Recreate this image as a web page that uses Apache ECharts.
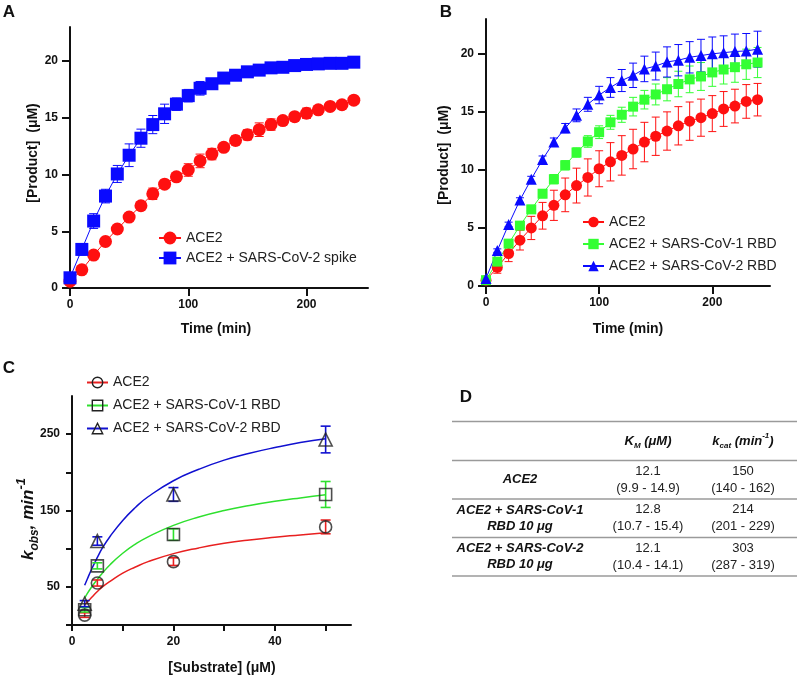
<!DOCTYPE html>
<html><head><meta charset="utf-8">
<script src="https://cdn.jsdelivr.net/npm/echarts@6/dist/echarts.min.js"></script>
<style>html,body{margin:0;padding:0;background:#fff}#c{width:800px;height:680px}</style>
</head><body><div id="c"></div><script>
const FONT = '"Liberation Sans", Arial, Helvetica, sans-serif';

// ---------- Panel A ----------
const timeMin = [0,10,20,30,40,50,60,70,80,90,100,110,120,130,140,150,160,170,180,190,200,210,220,230,240];
const aAce2 = [0.6,1.6,2.9,4.1,5.2,6.25,7.25,8.3,9.15,9.8,10.4,11.2,11.8,12.4,13.0,13.5,13.95,14.4,14.75,15.1,15.4,15.7,16.0,16.15,16.55];
const aAce2Err = [0.1,0.1,0.2,0.2,0.2,0.25,0.3,0.5,0.3,0.3,0.55,0.6,0.5,0.35,0.4,0.45,0.6,0.5,0.3,0.35,0.45,0.3,0.3,0.2,0.2];
const aSpike = [0.9,3.4,5.9,8.1,10.05,11.7,13.2,14.4,15.35,16.2,16.95,17.6,18.0,18.5,18.75,19.05,19.2,19.4,19.45,19.6,19.7,19.75,19.8,19.8,19.9];
const aSpikeErr = [0.1,0.5,0.65,0.6,0.75,1.0,0.8,0.8,0.85,0.55,0.55,0.6,0.35,0.3,0.3,0.3,0.3,0.25,0.25,0.25,0.2,0.2,0.2,0.2,0.2];

// ---------- Panel B ----------
const bAce2 = [0.5,1.6,2.8,3.95,5.0,6.05,6.95,7.85,8.65,9.35,10.1,10.7,11.25,11.8,12.4,12.9,13.35,13.8,14.2,14.5,14.85,15.25,15.5,15.9,16.05];
const bAce2Err = [0.2,0.5,0.7,0.85,1.0,1.15,1.3,1.45,1.5,1.6,1.55,1.65,1.7,1.7,1.7,1.65,1.65,1.65,1.65,1.6,1.55,1.5,1.45,1.45,1.4];
const bCov1 = [0.5,2.1,3.65,5.2,6.6,7.95,9.2,10.4,11.5,12.45,13.25,14.1,14.75,15.45,16.05,16.5,16.95,17.4,17.8,18.05,18.4,18.65,18.85,19.1,19.25];
const bCov1Err = [0.1,0.2,0.3,0.3,0.35,0.35,0.4,0.4,0.4,0.5,0.55,0.6,0.65,0.8,0.8,0.9,1.0,1.1,1.15,1.2,1.2,1.25,1.3,1.3,1.3];
const bCov2 = [0.65,3.05,5.3,7.4,9.2,10.9,12.4,13.6,14.7,15.65,16.45,17.1,17.7,18.15,18.7,18.95,19.3,19.45,19.7,19.85,20.0,20.1,20.2,20.25,20.4];
const bCov2Err = [0.1,0.15,0.2,0.2,0.25,0.3,0.35,0.4,0.55,0.6,0.75,0.85,0.95,1.05,1.1,1.2,1.3,1.35,1.35,1.4,1.45,1.45,1.5,1.5,1.55];

// ---------- Panel C ----------
const substrate = [2.5,5,20,50];
const cAce2 = [13,55,83,128.5];
const cAce2Err = [3,4,5,9];
const cCov1 = [20,77.5,118.5,171];
const cCov1Err = [3,4,7.5,17];
const cCov2 = [28,110,171,243];
const cCov2Err = [4,5.5,9,17.5];
const fitS = [2.5,3,4,5,6,7.5,10,12.5,15,20,25,30,35,40,45,50];
const fitAce2 = [26,30,37,44,50,57,68,76,83,93.5,101,107,111.5,115,118,121];
const fitCov1 = [35,41,51,60,68,79,94,106,115.5,130.5,141.5,150,156.5,162,166.5,170.5];
const fitCov2 = [52,60,75,88.5,101,116,137,154,168,189,204,216,225,232.5,239,244];

// ---------- Panel D (table) ----------
const rowLabels = ['ACE2', 'ACE2 + SARS-CoV-1\nRBD 10 μg', 'ACE2 + SARS-CoV-2\nRBD 10 μg'];
const kmVals = ['12.1','12.8','12.1'];
const kmCI = ['(9.9 - 14.9)','(10.7 - 15.4)','(10.4 - 14.1)'];
const kcatVals = ['150','214','303'];
const kcatCI = ['(140 - 162)','(201 - 229)','(287 - 319)'];

// tick/label values
const timeTicks = [0,100,200];
const productTicks = [0,5,10,15,20];
const subTicks = [0,10,20,30,40,50];
const subLabels = [0,20,40];
const kobsTicks = [0,50,100,150,200,250];
const kobsLabels = [50,150,250];

const RED = '#ff1010', BLUE = '#0a0aff', GREEN = '#33ff33';
const CRED = '#e82020', CGREEN = '#2ee02e', CBLUE = '#1010d0';

function zip(xs, ys){ return xs.map((x,i)=>[x, ys[i]]); }

function errSeries(xi, xs, ys, es, color, cap, lw, z){
  return {
    type:'custom', xAxisIndex:xi, yAxisIndex:xi, z:z||1, silent:true,
    data: xs.map((x,i)=>[x, ys[i]-es[i], ys[i]+es[i]]),
    encode:{x:0, y:[1,2]},
    renderItem: function(params, api){
      const lo = api.coord([api.value(0), api.value(1)]);
      const hi = api.coord([api.value(0), api.value(2)]);
      const st = {stroke:color, lineWidth:lw, fill:null};
      return {type:'group', children:[
        {type:'line', shape:{x1:lo[0],y1:lo[1],x2:hi[0],y2:hi[1]}, style:st},
        {type:'line', shape:{x1:hi[0]-cap,y1:hi[1],x2:hi[0]+cap,y2:hi[1]}, style:st},
        {type:'line', shape:{x1:lo[0]-cap,y1:lo[1],x2:lo[0]+cap,y2:lo[1]}, style:st}
      ]};
    }
  };
}

function lineSeries(name, xi, xs, ys, color, symbol, size){
  return {
    name:name, type:'line', xAxisIndex:xi, yAxisIndex:xi, z:3,
    data: zip(xs, ys), symbol:symbol, symbolSize:size, showSymbol:true,
    lineStyle:{color:color, width:1}, itemStyle:{color:color},
    emphasis:{disabled:true}, animation:false
  };
}

function xAxis(grid, min, max, ticks, labels, tickLen){
  return {
    type:'value', gridIndex:grid, min:min, max:max,
    axisLine:{show:true, onZero:false, lineStyle:{color:'#111', width:2}},
    axisTick:{show:true, length:tickLen, customValues:ticks, lineStyle:{color:'#111', width:2}},
    axisLabel:{customValues:labels, color:'#111', fontFamily:FONT, fontWeight:'bold', fontSize:12, margin:11},
    splitLine:{show:false}
  };
}
function yAxis(grid, min, max, ticks, labels, tickLen){
  return {
    type:'value', gridIndex:grid, min:min, max:max,
    axisLine:{show:true, onZero:false, lineStyle:{color:'#111', width:2}},
    axisTick:{show:true, length:tickLen, customValues:ticks, lineStyle:{color:'#111', width:2}},
    axisLabel:{customValues:labels, color:'#111', fontFamily:FONT, fontWeight:'bold', fontSize:12, margin:12},
    splitLine:{show:false}
  };
}

const txt = (x,y,text,o) => Object.assign({type:'text', x:x, y:y, silent:true,
  style:Object.assign({text:text, fill:'#111', font:'bold 13px '+FONT, textAlign:'center', textVerticalAlign:'middle'}, (o&&o.style)||{})},
  o&&o.rotation!==undefined?{rotation:o.rotation}:{});

const graphics = [
  txt(9, 12, 'A', {style:{font:'bold 17px '+FONT}}),
  txt(446, 12, 'B', {style:{font:'bold 17px '+FONT}}),
  txt(9, 368, 'C', {style:{font:'bold 17px '+FONT}}),
  txt(466, 397, 'D', {style:{font:'bold 17px '+FONT}}),
  txt(33, 153, '[Product]  (μM)', {rotation:Math.PI/2, style:{font:'bold 14px '+FONT}}),
  txt(444, 155, '[Product]  (μM)', {rotation:Math.PI/2, style:{font:'bold 14px '+FONT}}),
  txt(216, 329, 'Time (min)', {style:{font:'bold 14px '+FONT}}),
  txt(628, 329, 'Time (min)', {style:{font:'bold 14px '+FONT}}),
  txt(222, 668, '[Substrate] (μM)', {style:{font:'bold 14px '+FONT}}),
  {type:'text', x:28, y:519, rotation:Math.PI/2, silent:true, style:{
    text:'{k|k}{s|obs}{k|, min}{p|-1}', textAlign:'center', textVerticalAlign:'middle', fill:'#111',
    rich:{
      k:{font:'italic bold 17px '+FONT, fill:'#111', lineHeight:26, verticalAlign:'middle'},
      s:{font:'italic bold 12px '+FONT, fill:'#111', lineHeight:26, verticalAlign:'bottom'},
      p:{font:'italic bold 13px '+FONT, fill:'#111', lineHeight:26, verticalAlign:'top'}
    }}}
];

// Table
const tX1 = 452, tX2 = 797;
const lineYs = [421.5, 460.5, 499, 537.5, 576];
lineYs.forEach(y => graphics.push({type:'line', silent:true, shape:{x1:tX1,y1:y,x2:tX2,y2:y}, style:{stroke:'#9a9a9a', lineWidth:1.5}}));
graphics.push({type:'text', x:648, y:441, silent:true, style:{
  text:'{i|K}{s|M}{i| (μM)}', textAlign:'center', textVerticalAlign:'middle',
  rich:{ i:{font:'italic bold 13px '+FONT, fill:'#111', lineHeight:18, verticalAlign:'middle'},
         s:{font:'italic bold 8px '+FONT, fill:'#111', lineHeight:18, verticalAlign:'bottom'} }}});
graphics.push({type:'text', x:743, y:441, silent:true, style:{
  text:'{i|k}{s|cat}{i| (min}{p|-1}{i|)}', textAlign:'center', textVerticalAlign:'middle',
  rich:{ i:{font:'italic bold 13px '+FONT, fill:'#111', lineHeight:18, verticalAlign:'middle'},
         s:{font:'italic bold 8px '+FONT, fill:'#111', lineHeight:18, verticalAlign:'bottom'},
         p:{font:'italic bold 8px '+FONT, fill:'#111', lineHeight:18, verticalAlign:'top'} }}});
for (let r = 0; r < rowLabels.length; r++) {
  const cy = (lineYs[r+1] + lineYs[r+2]) / 2;
  graphics.push({type:'text', x:520, y:cy, silent:true, style:{text:rowLabels[r], font:'italic bold 13px '+FONT, fill:'#111', textAlign:'center', textVerticalAlign:'middle', lineHeight:16}});
  graphics.push({type:'text', x:648, y:cy, silent:true, style:{text:kmVals[r]+'\n'+kmCI[r], font:'13px '+FONT, fill:'#222', textAlign:'center', textVerticalAlign:'middle', lineHeight:17}});
  graphics.push({type:'text', x:743, y:cy, silent:true, style:{text:kcatVals[r]+'\n'+kcatCI[r], font:'13px '+FONT, fill:'#222', textAlign:'center', textVerticalAlign:'middle', lineHeight:17}});
}

const legendText = {fontFamily:FONT, fontSize:14, color:'#222'};
const option = {
  animation:false,
  backgroundColor:'#fff',
  grid:[
    {left:70, top:27, width:298, height:261},
    {left:486, top:19, width:284, height:267},
    {left:72, top:396, width:279, height:229}
  ],
  xAxis:[
    xAxis(0, 0, 252, timeTicks, timeTicks, 8),
    xAxis(1, 0, 251, timeTicks, timeTicks, 8),
    xAxis(2, 0, 55, subTicks, subLabels, 6)
  ],
  yAxis:[
    yAxis(0, 0, 23, productTicks, productTicks, 8),
    yAxis(1, 0, 23, productTicks, productTicks, 8),
    yAxis(2, 0, 300, kobsTicks, kobsLabels, 6)
  ],
  legend:[
    {left:158, top:231, orient:'vertical', padding:0, itemWidth:22, itemHeight:16, itemGap:6, selectedMode:false,
     data:['A:ACE2','A:ACE2 + SARS-CoV-2 spike'], formatter:n=>n.slice(2), textStyle:legendText},
    {left:582, top:215, orient:'vertical', padding:0, itemWidth:21, itemHeight:13, itemGap:8, selectedMode:false,
     data:['B:ACE2','B:ACE2 + SARS-CoV-1 RBD','B:ACE2 + SARS-CoV-2 RBD'], formatter:n=>n.slice(2), textStyle:legendText},
    {left:86, top:375.5, orient:'vertical', padding:0, itemWidth:21, itemHeight:13, itemGap:9, selectedMode:false,
     itemStyle:{color:'rgba(255,255,255,0)', borderColor:'#222', borderWidth:1.4},
     data:['C:ACE2','C:ACE2 + SARS-CoV-1 RBD','C:ACE2 + SARS-CoV-2 RBD'], formatter:n=>n.slice(2), textStyle:legendText}
  ],
  graphic: graphics,
  series:[
    errSeries(0, timeMin, aAce2, aAce2Err, RED, 4.5, 1),
    errSeries(0, timeMin, aSpike, aSpikeErr, BLUE, 4.5, 1),
    lineSeries('A:ACE2', 0, timeMin, aAce2, RED, 'circle', 13),
    lineSeries('A:ACE2 + SARS-CoV-2 spike', 0, timeMin, aSpike, BLUE, 'rect', 13),

    errSeries(1, timeMin, bAce2, bAce2Err, RED, 4, 1),
    errSeries(1, timeMin, bCov1, bCov1Err, GREEN, 4, 1),
    errSeries(1, timeMin, bCov2, bCov2Err, BLUE, 4, 1),
    lineSeries('B:ACE2', 1, timeMin, bAce2, RED, 'circle', 11),
    lineSeries('B:ACE2 + SARS-CoV-1 RBD', 1, timeMin, bCov1, GREEN, 'rect', 10),
    lineSeries('B:ACE2 + SARS-CoV-2 RBD', 1, timeMin, bCov2, BLUE, 'triangle', 11),

    {name:'C:ACE2', type:'line', xAxisIndex:2, yAxisIndex:2, smooth:true, symbol:'circle', showSymbol:false, data:zip(fitS, fitAce2), lineStyle:{color:CRED, width:1.5}, itemStyle:{color:CRED}, z:2},
    {name:'C:ACE2 + SARS-CoV-1 RBD', type:'line', xAxisIndex:2, yAxisIndex:2, smooth:true, symbol:'rect', showSymbol:false, data:zip(fitS, fitCov1), lineStyle:{color:CGREEN, width:1.5}, itemStyle:{color:CGREEN}, z:2},
    {name:'C:ACE2 + SARS-CoV-2 RBD', type:'line', xAxisIndex:2, yAxisIndex:2, smooth:true, symbol:'triangle', showSymbol:false, data:zip(fitS, fitCov2), lineStyle:{color:CBLUE, width:1.5}, itemStyle:{color:CBLUE}, z:2},
    errSeries(2, substrate, cAce2, cAce2Err, CRED, 5, 1.6, 3),
    errSeries(2, substrate, cCov1, cCov1Err, CGREEN, 5, 1.6, 3),
    errSeries(2, substrate, cCov2, cCov2Err, CBLUE, 5, 1.6, 3),
    {name:'pts1', type:'scatter', xAxisIndex:2, yAxisIndex:2, z:4, symbol:'circle', symbolSize:12, data:zip(substrate, cAce2), itemStyle:{color:'rgba(255,255,255,0)', borderColor:'#222', borderWidth:1.6}},
    {name:'pts2', type:'scatter', xAxisIndex:2, yAxisIndex:2, z:4, symbol:'rect', symbolSize:12, data:zip(substrate, cCov1), itemStyle:{color:'rgba(255,255,255,0)', borderColor:'#222', borderWidth:1.6}},
    {name:'pts3', type:'scatter', xAxisIndex:2, yAxisIndex:2, z:4, symbol:'triangle', symbolSize:13, data:zip(substrate, cCov2), itemStyle:{color:'rgba(255,255,255,0)', borderColor:'#222', borderWidth:1.6}}
  ]
};
const chart = echarts.init(document.getElementById('c'), null, {renderer:'canvas'});
chart.setOption(option);
</script></body></html>
